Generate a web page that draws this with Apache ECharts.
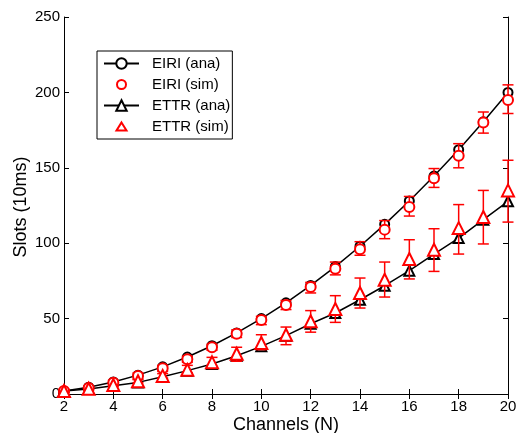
<!DOCTYPE html>
<html>
<head>
<meta charset="utf-8">
<script src="https://cdn.jsdelivr.net/npm/echarts@6/dist/echarts.min.js"></script>
<style>
  html, body { margin: 0; padding: 0; background: #fff; }
  #my-charts { width: 517px; height: 433px; }
</style>
</head>
<body>
<div id="my-charts"></div>
<script>
// values
var channels = [2, 3, 4, 5, 6, 7, 8, 9, 10, 11, 12, 13, 14, 15, 16, 17, 18, 19, 20]
var eiriAna = [2, 4.5, 8, 12.5, 18, 24.5, 32, 40.5, 50, 60.5, 72, 84.5, 98, 112.5, 128, 144.5, 162, 180.5, 200]
var eiriSim = [2, 4, 7.5, 12, 17, 23, 31, 40, 49, 59, 71, 83, 96, 109, 124, 143, 158, 180, 195]
var eiriLow = [1, 3, 6, 10, 15, 21, 29, 37.5, 46, 56, 67, 79, 92, 103, 118, 137, 150, 173, 186]
var eiriHigh = [3, 5, 9, 14, 19, 25, 33, 42.5, 51.5, 62, 74, 87.5, 101, 115, 131, 149.5, 166, 187, 205]
var ettrAna = [2, 3.3, 5.5, 7.7, 11.5, 15.5, 19.9, 25.4, 31.6, 38.7, 46.6, 53.7, 62.5, 71.8, 81.8, 92.8, 103.4, 115.6, 127.8]
var ettrSim = [2, 3.5, 6, 8.5, 12, 16, 21, 26.7, 33.8, 39.3, 48.2, 56.4, 67, 75.8, 89.5, 95.7, 110, 117.4, 135]
var ettrLow = [1, 2.5, 5, 7.5, 10.5, 14, 18.3, 21.7, 29.4, 32.7, 41, 47.5, 57, 64.3, 76.3, 81.3, 92.8, 99.5, 114]
var ettrHigh = [3, 4.5, 7, 9.5, 13.5, 19, 24.3, 31, 39.3, 44.4, 55.3, 65.2, 76.9, 87.5, 102.3, 109.6, 125.6, 135, 155]
var xTitle = 'Channels (N)'
var yTitle = 'Slots (10ms)'

function pairs(ys) {
  return channels.map(function (x, i) { return [x, ys[i]] })
}
function bars(lo, hi) {
  return channels.map(function (x, i) { return [x, lo[i], hi[i]] })
}

function errorBar(params, api) {
  var x = api.value(0)
  var lo = api.coord([x, api.value(1)])
  var hi = api.coord([x, api.value(2)])
  var w = 5.5
  var style = { stroke: '#ff0000', lineWidth: 1.5 }
  return {
    type: 'group',
    children: [
      { type: 'line', shape: { x1: lo[0], y1: lo[1], x2: hi[0], y2: hi[1] }, style: style },
      { type: 'line', shape: { x1: lo[0] - w, y1: lo[1], x2: lo[0] + w, y2: lo[1] }, style: style },
      { type: 'line', shape: { x1: hi[0] - w, y1: hi[1], x2: hi[0] + w, y2: hi[1] }, style: style }
    ]
  }
}

// legend icons for the marker-only series, padded to the full icon box
var circleIcon = 'path://M0,0M35,13M22,6.5A4.5,4.5,0,1,1,13,6.5A4.5,4.5,0,1,1,22,6.5Z'
var triIcon = 'path://M0,0M35,13M17.5,2.5L22.5,10.5L12.5,10.5Z'

var font = 'Liberation Sans, Arial, sans-serif'
var myChart = echarts.init(document.getElementById('my-charts'))

var option = {
  animation: false,
  backgroundColor: '#fff',
  textStyle: { fontFamily: font, color: '#000' },
  grid: { left: 64, right: 9, top: 17, bottom: 39, outerBoundsMode: 'none', containLabel: false },
  graphic: [
    {
      type: 'text',
      x: 286,
      y: 425,
      style: { text: xTitle, font: '18px ' + font, fill: '#000', align: 'center', verticalAlign: 'middle' }
    },
    {
      type: 'text',
      x: 21,
      y: 207,
      rotation: Math.PI / 2,
      style: { text: yTitle, font: '18px ' + font, fill: '#000', align: 'center', verticalAlign: 'middle' }
    }
  ],
  legend: {
    orient: 'vertical',
    left: 97,
    top: 51,
    padding: [5, 2, 5, 6],
    itemGap: 6,
    itemWidth: 35,
    itemHeight: 13,
    backgroundColor: '#fff',
    borderColor: '#000',
    borderWidth: 1,
    borderRadius: 0,
    textStyle: { fontFamily: font, fontSize: 15, color: '#000', padding: [0, 0, 0, 8] },
    data: [
      'EIRI (ana)',
      { name: 'EIRI (sim)', icon: circleIcon, itemStyle: { color: '#fff', borderColor: '#ff0000', borderWidth: 2, opacity: 1 } },
      'ETTR (ana)',
      { name: 'ETTR (sim)', icon: triIcon, itemStyle: { color: '#fff', borderColor: '#ff0000', borderWidth: 2, opacity: 1 } }
    ]
  },
  xAxis: [
    {
      type: 'value',
      min: 2,
      max: 20,
      interval: 2,
      axisLine: { lineStyle: { color: '#000', width: 1 } },
      axisTick: { inside: true, length: 5, lineStyle: { color: '#000' } },
      axisLabel: { fontFamily: font, fontSize: 15, color: '#000', margin: 5 },
      splitLine: { show: false }
    },
    {
      type: 'value',
      position: 'top',
      min: 2,
      max: 20,
      interval: 2,
      axisLine: { lineStyle: { color: '#000', width: 1 } },
      axisTick: { inside: true, length: 5, lineStyle: { color: '#000' } },
      axisLabel: { show: false },
      splitLine: { show: false }
    }
  ],
  yAxis: [
    {
      type: 'value',
      min: 0,
      max: 250,
      interval: 50,
      axisLine: { show: true, lineStyle: { color: '#000', width: 1 } },
      axisTick: { show: true, inside: true, length: 5, lineStyle: { color: '#000' } },
      axisLabel: { fontFamily: font, fontSize: 15, color: '#000', margin: 4 },
      splitLine: { show: false }
    },
    {
      type: 'value',
      position: 'right',
      min: 0,
      max: 250,
      interval: 50,
      axisLine: { show: true, lineStyle: { color: '#000', width: 1 } },
      axisTick: { show: true, inside: true, length: 5, lineStyle: { color: '#000' } },
      axisLabel: { show: false },
      splitLine: { show: false }
    }
  ],
  series: [
    {
      name: 'EIRI (ana)',
      type: 'line',
      data: pairs(eiriAna),
      symbol: 'emptyCircle',
      symbolSize: 9,
      showAllSymbol: true,
      lineStyle: { color: '#000', width: 1.5 },
      itemStyle: { color: '#000', borderColor: '#000', borderWidth: 1.5 },
      z: 2
    },
    {
      name: 'ETTR (ana)',
      type: 'line',
      data: pairs(ettrAna),
      symbol: 'emptyTriangle',
      symbolSize: 10,
      showAllSymbol: true,
      lineStyle: { color: '#000', width: 1.5 },
      itemStyle: { color: '#000', borderColor: '#000', borderWidth: 1.5 },
      z: 2
    },
    {
      name: 'EIRI err',
      type: 'custom',
      renderItem: errorBar,
      data: bars(eiriLow, eiriHigh),
      z: 3
    },
    {
      name: 'ETTR err',
      type: 'custom',
      renderItem: errorBar,
      data: bars(ettrLow, ettrHigh),
      z: 3
    },
    {
      name: 'EIRI (sim)',
      type: 'scatter',
      data: pairs(eiriSim),
      symbol: 'emptyCircle',
      symbolSize: 10,
      itemStyle: { color: '#ff0000', borderColor: '#ff0000', borderWidth: 1.8, opacity: 1 },
      z: 4
    },
    {
      name: 'ETTR (sim)',
      type: 'scatter',
      data: pairs(ettrSim),
      symbol: 'emptyTriangle',
      symbolSize: 12,
      itemStyle: { color: '#ff0000', borderColor: '#ff0000', borderWidth: 1.8, opacity: 1 },
      z: 4
    }
  ]
}

myChart.setOption(option)
</script>
</body>
</html>
